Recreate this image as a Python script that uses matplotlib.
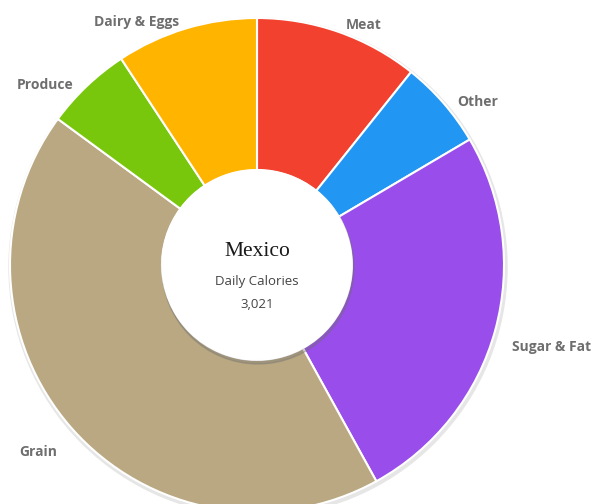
import matplotlib.pyplot as plt
from matplotlib.patches import Circle

# daily calories by food group
groups = ['Meat', 'Other', 'Sugar & Fat', 'Grain', 'Produce', 'Dairy & Eggs']
calories = [324, 175, 769, 1302, 171, 280]
colors = ['#f3412f', '#2196f3', '#994deb', '#baa882', '#79c70d', '#ffb400']

country = 'Mexico'
total_label = '3,021'

# label anchor positions in pixel coords (x, y from top)
label_pos = {
    'Meat': (364, 25),
    'Other': (478, 102),
    'Sugar & Fat': (552, 347),
    'Grain': (38, 452),
    'Produce': (45, 85),
    'Dairy & Eggs': (137, 22),
}

def main():
    fig = plt.figure(figsize=(5.93, 5.04), dpi=100)
    ax = fig.add_axes([0, 0, 1, 1])
    cx, cy = 257, 265
    r_out, r_in = 247, 95

    # soft shadow under the ring
    ax.add_patch(Circle((cx + 1, cy + 2), r_out + 2, color='#e6e6e6', zorder=0))

    # y axis is flipped, so counterclockwise in data = clockwise on screen
    ax.pie(calories, colors=colors, startangle=-90, counterclock=True,
           center=(cx, cy), radius=r_out,
           wedgeprops=dict(width=r_out - r_in, edgecolor='white', linewidth=1.5))

    # inner white disc with faint shadow
    ax.add_patch(Circle((cx + 1, cy + 3), r_in + 1, color='#6f6f6f', alpha=0.35, zorder=4))
    ax.add_patch(Circle((cx, cy), r_in, color='white', zorder=5))

    ax.text(cx, 252, country, ha='center', va='center', fontsize=15.5,
            family=['Liberation Serif', 'DejaVu Serif'], color='#1a1a1a', zorder=6)
    ax.text(cx, 282, 'Daily Calories', ha='center', va='center', fontsize=9.5,
            family=['Open Sans', 'DejaVu Sans'], color='#444444', zorder=6)
    ax.text(cx, 305, total_label, ha='center', va='center', fontsize=9.5,
            family=['Open Sans', 'DejaVu Sans'], color='#444444', zorder=6)

    for g in groups:
        x, y = label_pos[g]
        ax.text(x, y, g, ha='center', va='center', fontsize=10, fontweight='bold',
                family=['Open Sans', 'DejaVu Sans'],
                color='#6e6e6e', zorder=6)

    ax.set_xlim(0, 593)
    ax.set_ylim(504, 0)
    ax.set_aspect('auto')
    ax.axis('off')
    fig.savefig('out.png', dpi=100)

if __name__ == "__main__":
    main()
